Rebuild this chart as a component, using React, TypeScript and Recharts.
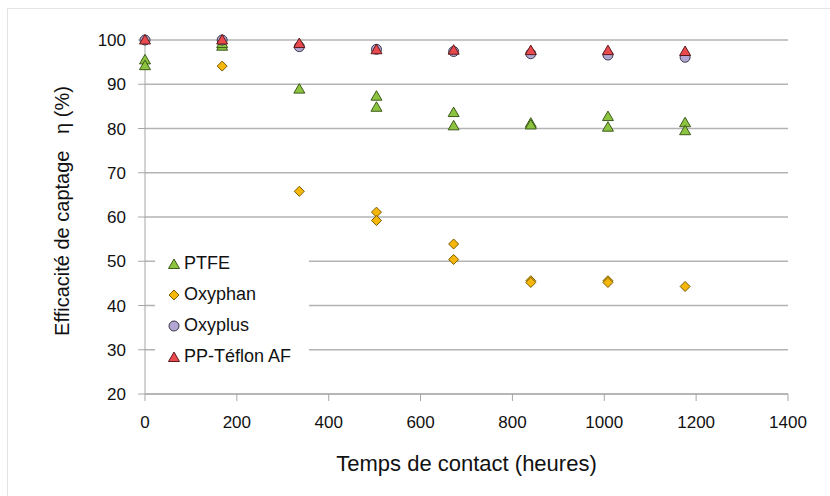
import React from 'react';
import { ScatterChart, Scatter, XAxis, YAxis, CartesianGrid } from 'recharts';

// contact time (hours), one sample per week
const hours = [0, 168, 336, 504, 672, 840, 1008, 1176];

// capture efficiency (%), two replicates where visible
const ptfeA = [95.5, 98.6, 88.9, 87.3, 83.6, 81.2, 82.7, 81.3];
const ptfeB = [94.2, 99.2, null, 84.8, 80.6, 80.8, 80.3, 79.5];
const oxyphanA = [null, 94.1, 65.8, 61.1, 53.9, 45.6, 45.6, 44.3];
const oxyphanB = [null, null, null, 59.2, 50.4, 45.2, 45.2, null];
const oxyplus = [100, 100, 98.5, 97.9, 97.4, 96.9, 96.6, 96.1];
const teflon = [100, 100, 99.2, 97.8, 97.7, 97.6, 97.6, 97.4];

const xTicks = [0, 200, 400, 600, 800, 1000, 1200, 1400];
const yTicks = [20, 30, 40, 50, 60, 70, 80, 90, 100];

const toPoints = (...runs: (number | null)[][]) =>
  runs.flatMap((run) =>
    run.map((y, i) => (y == null ? null : { x: hours[i], y })).filter(Boolean)
  );

const colors = {
  ptfe: { fill: '#8cc43f', stroke: '#3d5a1c' },
  oxyphan: { fill: '#f6b70c', stroke: '#7a5c00' },
  oxyplus: { fill: '#b3a6d3', stroke: '#3a3a4a' },
  teflon: { fill: '#ea4a4e', stroke: '#5b1a1c' },
};

const font = '"Liberation Sans", Arial, sans-serif';

const triangle = (c: { fill: string; stroke: string }) => (p: any) => (
  <polygon
    points={`${p.cx},${p.cy - 5.5} ${p.cx + 5.5},${p.cy + 4} ${p.cx - 5.5},${p.cy + 4}`}
    fill={c.fill}
    stroke={c.stroke}
    strokeWidth={1}
  />
);

const diamond = (c: { fill: string; stroke: string }) => (p: any) => (
  <polygon
    points={`${p.cx},${p.cy - 5} ${p.cx + 5},${p.cy} ${p.cx},${p.cy + 5} ${p.cx - 5},${p.cy}`}
    fill={c.fill}
    stroke={c.stroke}
    strokeWidth={1}
  />
);

const circle = (c: { fill: string; stroke: string }) => (p: any) => (
  <circle cx={p.cx} cy={p.cy} r={5} fill={c.fill} stroke={c.stroke} strokeWidth={1} />
);

const legendItems = [
  { name: 'PTFE', kind: 'tri', c: colors.ptfe },
  { name: 'Oxyphan', kind: 'dia', c: colors.oxyphan },
  { name: 'Oxyplus', kind: 'cir', c: colors.oxyplus },
  { name: 'PP-Téflon AF', kind: 'tri', c: colors.teflon },
];

function LegendBox() {
  return (
    <div
      style={{
        position: 'absolute',
        left: 155,
        top: 246,
        width: 154,
        height: 126,
        boxSizing: 'border-box',
        background: '#fff',
        padding: '2px 0 0 13px',
        fontFamily: font,
      }}
    >
      {legendItems.map((it) => (
        <div key={it.name} style={{ display: 'flex', alignItems: 'center', height: 31 }}>
          <svg width={12} height={12} style={{ marginRight: 4 }}>
            {it.kind === 'tri' && triangle(it.c)({ cx: 6, cy: 6.5 })}
            {it.kind === 'dia' && diamond(it.c)({ cx: 6, cy: 6 })}
            {it.kind === 'cir' && circle(it.c)({ cx: 6, cy: 6 })}
          </svg>
          <span style={{ fontSize: 18, color: '#111' }}>{it.name}</span>
        </div>
      ))}
    </div>
  );
}

const XTick = (p: any) => (
  <text x={p.x} y={p.y} dy="0.71em" textAnchor="middle" fontSize={17} fontFamily={font} fill="#111">
    {p.payload.value}
  </text>
);

const YTick = (p: any) => (
  <text x={p.x} y={p.y} dy="0.355em" textAnchor="end" fontSize={17} fontFamily={font} fill="#111">
    {p.payload.value}
  </text>
);

export default function App() {
  return (
    <div style={{ position: 'absolute', left: 0, top: 0, width: 830, height: 496, background: '#fff', overflow: 'hidden' }}>
      <div
        style={{
          position: 'absolute',
          left: 7,
          top: 8,
          width: 830,
          height: 496,
          borderLeft: '1px solid #e4e4e4',
          borderTop: '1px solid #e4e4e4',
        }}
      />
      <div style={{ position: 'absolute', left: 0, top: 0 }}>
        <ScatterChart width={830} height={496} margin={{ top: 40, right: 42, bottom: 0, left: 0 }}>
          <CartesianGrid horizontal vertical={false} stroke="#b3b3b3" strokeWidth={1.3} />
          <XAxis
            type="number"
            dataKey="x"
            domain={[0, 1400]}
            ticks={xTicks}
            interval={0}
            height={102}
            stroke="#a6a6a6"
            tickSize={7}
            tickMargin={15}
            tick={<XTick />}
            label={{
              value: 'Temps de contact (heures)',
              position: 'insideTop',
              offset: 61,
              fontSize: 22,
              fontFamily: font,
              fill: '#111',
            }}
          />
          <YAxis
            type="number"
            dataKey="y"
            domain={[20, 100]}
            ticks={yTicks}
            interval={0}
            width={145}
            stroke="#a6a6a6"
            tickSize={7}
            tickMargin={12}
            tick={<YTick />}
            label={() => (
              <text
                x={69}
                y={211}
                transform="rotate(-90 69 211)"
                textAnchor="middle"
                fontSize={20}
                fontFamily={font}
                fill="#111"
                style={{ whiteSpace: 'pre' }}
              >
                {'Efficacité de captage   η (%)'}
              </text>
            )}
          />
          <Scatter name="PTFE" data={toPoints(ptfeA, ptfeB)} shape={triangle(colors.ptfe)} isAnimationActive={false} />
          <Scatter name="Oxyphan" data={toPoints(oxyphanA, oxyphanB)} shape={diamond(colors.oxyphan)} isAnimationActive={false} />
          <Scatter name="Oxyplus" data={toPoints(oxyplus)} shape={circle(colors.oxyplus)} isAnimationActive={false} />
          <Scatter name="PP-Téflon AF" data={toPoints(teflon)} shape={triangle(colors.teflon)} isAnimationActive={false} />
        </ScatterChart>
      </div>
      <LegendBox />
    </div>
  );
}
